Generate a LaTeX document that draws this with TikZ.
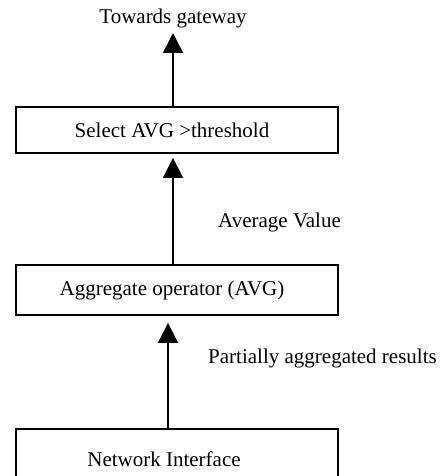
\documentclass[tikz,border=0pt]{standalone}
\usepackage{fontspec}
\setmainfont{Liberation Serif}
\usetikzlibrary{arrows.meta}
\begin{document}
\begin{tikzpicture}[x=1pt,y=-1pt,
  opbox/.style={draw=black,line width=1.8pt,minimum width=322pt,inner sep=0pt,font=\fontsize{21}{24}\selectfont},
  lbl/.style={inner sep=0pt,font=\fontsize{21}{24}\selectfont},
  flow/.style={line width=1.6pt,-{Triangle[width=20pt,length=20pt]}}]
\useasboundingbox (0,0) rectangle (447,476);
\node[lbl] (gw) at (173,18) {Towards gateway};
\node[opbox,minimum height=46pt] (sel) at (177,130) {\hspace*{-10pt}Select AVG >threshold};
\node[opbox,minimum height=50pt] (agg) at (177,290) {\hspace*{-10pt}Aggregate operator (AVG)};
\node[opbox,minimum height=60pt] (net) at (177,459) {\hspace*{-26pt}Network Interface};
\node[lbl,anchor=west] (avl) at (218,222) {Average Value};
\node[lbl,anchor=west] (par) at (208,358) {Partially aggregated results};
\coordinate (gwtip) at (173,33);
\draw[flow] (sel.north -| gwtip) -- (gwtip);
\draw[flow] (agg.north -| gwtip) -- ([yshift=-4pt]sel.south -| gwtip);
\draw[flow] ([xshift=-5pt]net.north -| gwtip) -- ([xshift=-5pt,yshift=-7pt]agg.south -| gwtip);
\end{tikzpicture}
\end{document}
